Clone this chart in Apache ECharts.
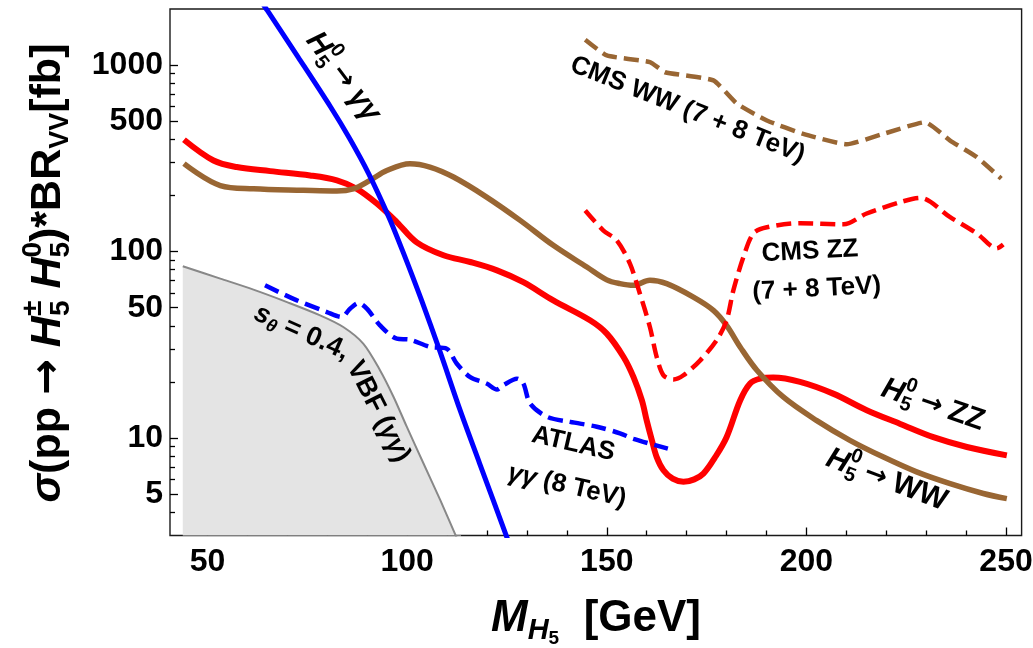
<!DOCTYPE html>
<html><head><meta charset="utf-8">
<script src="https://cdn.jsdelivr.net/npm/echarts@6/dist/echarts.min.js"></script>
<style>html,body{margin:0;padding:0;background:#fff}#c{width:1033px;height:648px}</style>
</head><body><div id="c"></div>
<script>
// ---- tick values ----
const xTickLabels = [50, 100, 150, 200, 250];
const xMinorTicks = [60, 70, 80, 90, 110, 120, 130, 140, 160, 170, 180, 190, 210, 220, 230, 240];
const yTickLabels = [5, 10, 50, 100, 500, 1000];
const yMinorTicks = [4, 6, 7, 8, 9, 20, 30, 40, 60, 70, 80, 90, 200, 300, 400, 600, 700, 800, 900];

// ---- H5 -> ZZ (red solid) ----
const zzX = [44.1, 51.5, 57.3, 65.7, 75.7, 82.4, 87.4, 92.4, 97.4, 102.4, 109.1, 115.8, 122.5, 129.1, 136.6, 145.8, 150.0, 154.2, 156.7, 158.8, 160.0, 161.3, 162.5, 164.2, 166.5, 169.2, 171.9, 174.2, 177.0, 180.0, 183.4, 185.9, 188.4, 191.7, 198.4, 206.7, 215.1, 223.5, 231.8, 240.2, 250.2];
const zzY = [398, 308, 284, 270, 256, 241, 217, 181, 144, 112, 95.5, 87.9, 79.3, 68.5, 54.7, 42.8, 36.3, 27.2, 21.2, 15.9, 12.4, 9.72, 7.90, 6.71, 6.05, 5.82, 6.0, 6.44, 7.8, 10.1, 15.9, 19.6, 20.8, 21.1, 20.0, 17.3, 14.1, 11.9, 10.1, 8.95, 8.07];

// ---- H5 -> WW (brown solid) ----
const wwX = [44.1, 53.2, 61.5, 74.0, 82.4, 86.5, 90.7, 94.9, 100.7, 105.7, 111.6, 119.9, 128.3, 136.6, 145.0, 150.0, 153.3, 156.7, 160.8, 165.0, 171.7, 176.7, 180.0, 183.4, 187.6, 194.2, 202.6, 210.9, 219.3, 227.6, 236.0, 244.3, 250.2];
const wwY = [296, 226, 217, 213, 211, 217, 241, 272, 296, 284, 251, 196, 147, 108, 82.6, 70.5, 67.3, 65.9, 70.2, 67.3, 57.0, 48.4, 40.2, 30.8, 23.1, 16.6, 12.4, 9.72, 7.90, 6.58, 5.69, 5.04, 4.73];

// ---- H5 -> gamma gamma (blue solid) ----
const aaX = [59.9, 64.85, 72.69, 80.83, 85.59, 90.35, 95.48, 99.11, 103.62, 108.13, 113.26, 118.14, 124.96, 127.03];
const aaY = [2844, 1982, 1104, 596, 404, 262, 152, 97.8, 54.7, 29.5, 14.1, 7.32, 2.94, 2.21];

// ---- s_theta = 0.4, VBF (gamma gamma) (gray, filled) ----
const vbfX = [43.8, 53.2, 61.5, 69.9, 78.2, 84.0, 89.0, 93.2, 96.6, 99.9, 104.1, 108.3, 112.4, 113.5];
const vbfY = [83.4, 71.6, 62.5, 53.6, 45.5, 39.4, 32.1, 23.1, 16.6, 11.5, 7.30, 4.64, 2.92, 2.6];

// ---- ATLAS gamma gamma (8 TeV) (blue dashed) ----
const atlasX = [64.4, 72.4, 79.9, 83.6, 85.7, 87.8, 89.9, 93.2, 97.4, 100.7, 105.7, 109.9, 112.4, 115.8, 119.9, 122.5, 124.1, 127.5, 129.1, 130.8, 135.0, 140.8, 147.5, 153.3, 156.7, 165.3];
const atlasY = [65.9, 54.7, 47.4, 44.6, 49.4, 53.0, 49.4, 40.2, 34.1, 33.7, 30.8, 30.1, 25.1, 21.2, 19.6, 18.2, 19.2, 20.8, 19.6, 15.3, 13.0, 12.2, 11.5, 10.6, 9.9, 8.77];

// ---- CMS ZZ (7+8 TeV) (red dashed) ----
const cmsZZX = [144.6, 149.1, 152.5, 155.8, 158.3, 160.8, 162.5, 164.2, 166.7, 169.2, 173.4, 177.5, 180.0, 181.7, 184.2, 186.7, 190.1, 198.4, 209.3, 215.1, 223.5, 228.5, 236.0, 242.7, 247.7, 249.3];
const cmsZZY = [166, 130, 115, 86.1, 59.4, 39.4, 27.2, 21.7, 20.6, 21.7, 26.1, 33.4, 42.7, 61.9, 93.1, 125, 135, 142, 140, 160, 184, 194, 153, 125, 104, 109];

// ---- CMS WW (7+8 TeV) (brown dashed) ----
const cmsWWX = [144.6, 150.0, 160.8, 164.6, 176.7, 182.6, 190.1, 199.2, 210.1, 219.3, 229.7, 236.0, 242.7, 248.8];
const cmsWWY = [1368, 1127, 1038, 916, 828, 621, 505, 428, 376, 428, 494, 394, 321, 246];

const X_MIN = 40.6, X_MAX = 253.9, Y_MIN = 3, Y_MAX = 2000;

const RED = '#ff0000', BLUE = '#0000ff', BROWN = '#996633', GRAYLINE = '#888888', GRAYFILL = '#e4e4e4';
const FONT = '"Liberation Sans", Arial, Helvetica, sans-serif';
const ARROWFONT = '"DejaVu Sans", sans-serif';

function pairs(xs, ys) { return xs.map((x, i) => [x, ys[i]]); }

// ---- rich label builder (graphic) ----
const mctx = document.createElement('canvas').getContext('2d');
function fontStr(p) { return (p.i ? 'italic ' : '') + 'bold ' + p.s + 'px ' + (p.f || FONT); }
function tw(p) { mctx.font = fontStr(p); return mctx.measureText(p.t).width; }
function txt(p, x) {
  return { type: 'text', x: x, y: p.dy || 0, z: 100,
    style: { text: p.t, font: fontStr(p), fill: '#000', align: 'left', verticalAlign: 'middle' } };
}
function label(parts, cx, cy, deg) {
  let x = 0; const kids = [];
  parts.forEach(p => {
    if (p.stack) {
      let m = 0;
      p.stack.forEach(q => { kids.push(txt(q, x)); m = Math.max(m, tw(q)); });
      x += m;
    } else { kids.push(txt(p, x)); x += tw(p); }
  });
  kids.forEach(k => { k.x -= x / 2; });
  return { type: 'group', x: cx, y: cy, rotation: deg * Math.PI / 180, children: kids, z: 100 };
}
function H5(sup, s) {
  return [{ t: 'H', s: s, i: 1 }, { stack: [{ t: sup, s: Math.round(s * 0.66), dy: -Math.round(s * 0.36) }, { t: '5', s: Math.round(s * 0.66), dy: Math.round(s * 0.3) }] }];
}
function arrow(s) { return [{ t: ' ', s: s }, { t: '→', s: s, f: ARROWFONT }, { t: ' ', s: s }]; }

const graphics = [
  // y-axis title
  label([{ t: 'σ', s: 43, i: 1 }, { t: '(pp', s: 43 }].concat(arrow(43), H5('±', 43), [{ t: ' ', s: 43 }], H5('0', 43),
    [{ t: ')*BR', s: 43 }, { t: 'VV', s: 27, dy: 12 }, { t: '[fb]', s: 43 }]), 48.5, 273, 90),
  // x-axis title
  label([{ t: 'M', s: 44, i: 1 }, { t: 'H', s: 29, i: 1, dy: 12 }, { t: '5', s: 19, dy: 20 }, { t: '  [GeV]', s: 44 }], 596, 619, 0),
  // curve annotations
  label(H5('0', 30).concat(arrow(27), [{ t: 'γγ', s: 30, i: 1 }]), 343, 77, -53),
  label([{ t: 'CMS WW (7 + 8 TeV)', s: 26 }], 687.5, 110, -21.7),
  label([{ t: 'CMS ZZ', s: 26 }], 810, 251.5, 3),
  label([{ t: '(7 + 8 TeV)', s: 26 }], 816.7, 289, 3),
  label([{ t: 's', s: 27, i: 1 }, { t: 'θ', s: 18, i: 1, dy: 7 }, { t: ' = 0.4,', s: 27 }], 301.7, 332.5, -24),
  label([{ t: 'VBF (', s: 27 }, { t: 'γγ', s: 27, i: 1 }, { t: ')', s: 27 }], 378.3, 411.7, -63),
  label([{ t: 'ATLAS', s: 26 }], 573.3, 444, -13),
  label([{ t: 'γγ', s: 26, i: 1 }, { t: ' (8 TeV)', s: 26 }], 567, 486, -13),
  label(H5('0', 30).concat(arrow(27), [{ t: 'ZZ', s: 30 }]), 933, 405, -19),
  label(H5('0', 30).concat(arrow(27), [{ t: 'WW', s: 30 }]), 886.7, 480, -21)
];

const tickLine = { color: '#000', width: 1.3 };
const fmt = v => String(Math.round(v));
const chart = echarts.init(document.getElementById('c'), null, { renderer: 'canvas' });
chart.setOption({
  animation: false,
  backgroundColor: '#fff',
  grid: { left: 170, right: 11.4, top: 9, bottom: 112.5, show: true, borderColor: '#1a1a1a', borderWidth: 1.4,
    backgroundColor: 'transparent', containLabel: false, outerBoundsMode: 'none' },
  xAxis: [
    { type: 'value', min: X_MIN, max: X_MAX, position: 'bottom', axisLine: { show: false }, splitLine: { show: false },
      axisTick: { show: true, inside: true, length: 8, lineStyle: tickLine, customValues: xTickLabels },
      axisLabel: { customValues: xTickLabels, formatter: fmt, margin: 11, color: '#000', fontSize: 32, fontWeight: 'bold', fontFamily: FONT } },
    { type: 'value', min: X_MIN, max: X_MAX, position: 'bottom', axisLine: { show: false }, splitLine: { show: false },
      axisTick: { show: true, inside: true, length: 5, lineStyle: tickLine, customValues: xMinorTicks },
      axisLabel: { show: false } }
  ],
  yAxis: [
    { type: 'log', logBase: 10, min: Y_MIN, max: Y_MAX, position: 'left', axisLine: { show: false }, splitLine: { show: false },
      axisTick: { show: true, inside: true, length: 8, lineStyle: tickLine, customValues: yTickLabels },
      axisLabel: { customValues: yTickLabels, formatter: fmt, margin: 7, color: '#000', fontSize: 32, fontWeight: 'bold', fontFamily: FONT } },
    { type: 'log', logBase: 10, min: Y_MIN, max: Y_MAX, position: 'left', axisLine: { show: false }, splitLine: { show: false },
      axisTick: { show: true, inside: true, length: 5, lineStyle: tickLine, customValues: yMinorTicks },
      axisLabel: { show: false } }
  ],
  series: [
    { name: 'VBF', type: 'line', data: pairs(vbfX, vbfY), symbol: 'none', smooth: 0.3,
      lineStyle: { color: GRAYLINE, width: 2 }, areaStyle: { color: GRAYFILL, opacity: 1 }, z: 1 },
    { name: 'ZZ', type: 'line', data: pairs(zzX, zzY), symbol: 'none', smooth: 0.35,
      lineStyle: { color: RED, width: 6 }, z: 2 },
    { name: 'WW', type: 'line', data: pairs(wwX, wwY), symbol: 'none', smooth: 0.35,
      lineStyle: { color: BROWN, width: 5.5 }, z: 3 },
    { name: 'AA', type: 'line', data: pairs(aaX, aaY), symbol: 'none', smooth: 0.3,
      lineStyle: { color: BLUE, width: 5 }, z: 4 },
    { name: 'ATLAS', type: 'line', data: pairs(atlasX, atlasY), symbol: 'none', smooth: 0.3,
      lineStyle: { color: BLUE, width: 4.5, type: [15, 7] }, z: 5 },
    { name: 'CMSZZ', type: 'line', data: pairs(cmsZZX, cmsZZY), symbol: 'none', smooth: 0.3,
      lineStyle: { color: RED, width: 4.5, type: [15, 7] }, z: 5 },
    { name: 'CMSWW', type: 'line', data: pairs(cmsWWX, cmsWWY), symbol: 'none', smooth: 0.15,
      lineStyle: { color: BROWN, width: 4.5, type: [15, 7] }, z: 5 }
  ],
  graphic: graphics
});
</script>
</body></html>
